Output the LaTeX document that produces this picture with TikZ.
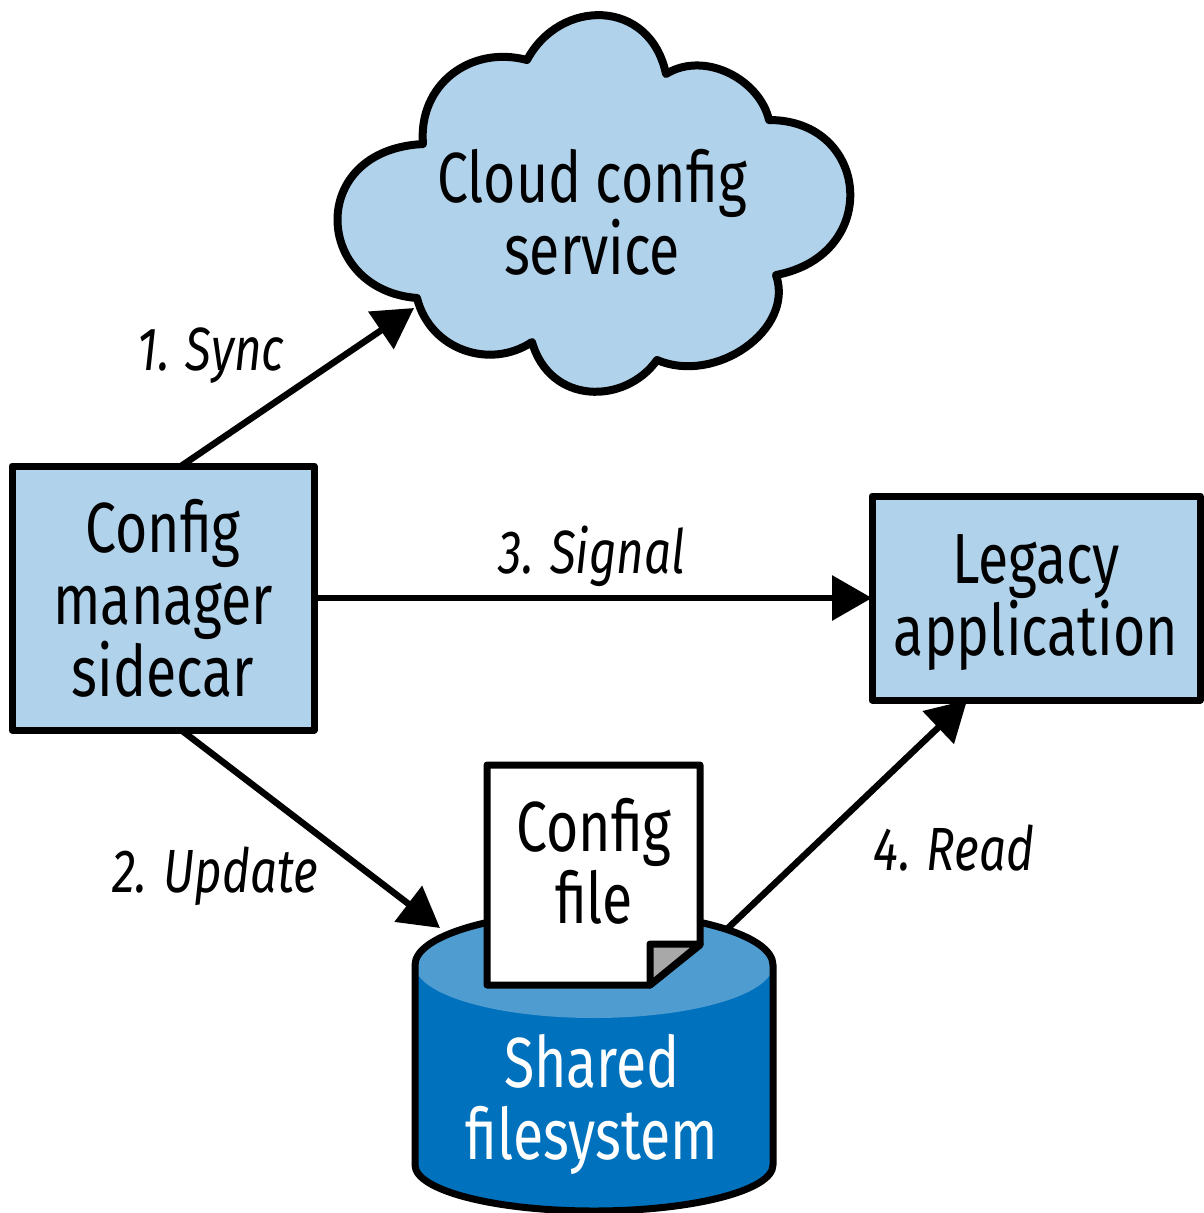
\documentclass[tikz,border=0pt]{standalone}
\usepackage{fontspec}
\setmainfont{Fira Sans}[FakeStretch=0.78]
\usetikzlibrary{arrows.meta,calc}
\definecolor{lightblue}{HTML}{B0D2EA}
\definecolor{deepblue}{HTML}{0071BC}
\definecolor{midblue}{HTML}{4F9CD0}
\definecolor{foldgray}{HTML}{A8A8A8}
\tikzset{
  outline/.style={draw=black,line width=7pt,line join=round},
  bigtext/.style={font=\fontsize{71}{72}\selectfont,align=center,inner sep=0pt},
  steplabel/.style={font=\fontsize{61}{62}\selectfont\itshape,inner sep=0pt},
  flowbox/.style={outline,fill=lightblue,rectangle,minimum width=#1,inner sep=0pt,outer sep=0pt},
  flow/.style={line width=6.5pt,-{Triangle[length=40pt,width=44pt]}}
}
\begin{document}
\begin{tikzpicture}[x=1pt,y=-1pt]
\useasboundingbox (0,0) rectangle (1203,1213);
% cloud
\path[outline,line width=8pt,fill=lightblue] (417,298)
  .. controls (314,290) and (306,150) .. (423,144)
  .. controls (418,85) and (470,45) .. (527,60)
  .. controls (560,-2) and (650,-2) .. (666,74)
  .. controls (705,50) and (760,80) .. (769,120)
  .. controls (870,120) and (882,255) .. (776,275)
  .. controls (795,330) and (715,385) .. (657,360)
  .. controls (625,405) and (550,405) .. (532,342)
  .. controls (490,370) and (430,350) .. (417,298) -- cycle;
\coordinate (cloudnotch) at (414,308);
\node[bigtext] (cloud) at (592,212) {Cloud config\\service};
% boxes
\node[flowbox=302pt,minimum height=264pt,bigtext] (cfg) at (163,598) {Config\\manager\\sidecar};
\node[flowbox=328pt,minimum height=204pt] (legacy) at (1036,598) {};
\node[bigtext] (legacytext) at (1036,603) {Legacy\\application};
% cylinder
\path[fill=deepblue] (415,965) -- (415,1165) arc[start angle=180,end angle=360,x radius=179,y radius=-46] -- (773,965) -- cycle;
\path[fill=midblue] (594,965) ellipse[x radius=179,y radius=53];
\path[outline] (773,965) arc[start angle=0,end angle=180,x radius=179,y radius=-53] -- (415,1165) arc[start angle=180,end angle=360,x radius=179,y radius=-46] -- cycle;
\coordinate (cylleft) at (440,928);
\coordinate (cylright) at (727,929);
\node[bigtext,text=white] (shared) at (592,1104) {Shared\\filesystem};
% document
\path[outline,fill=white] (487,765) -- (700,765) -- (700,945) -- (650,985) -- (487,985) -- cycle;
\path[outline,fill=foldgray] (650,985) -- (650,944) -- (700,944) -- cycle;
\node[bigtext] (file) at (594,861) {Config\\file};
% connectors
\draw[flow] ($(cfg.north west)!0.56!(cfg.north east)$) -- (cloudnotch);
\draw[flow] (cfg.east) -- (legacy.west);
\draw[flow] ($(cfg.south west)!0.56!(cfg.south east)$) -- (cylleft);
\draw[flow] (cylright) -- ($(legacy.south west)!0.29!(legacy.south east)$);
% labels
\node[steplabel] (l1) at (211,356) {1. Sync};
\node[steplabel] (l3) at (592,556) {3. Signal};
\node[steplabel] (l2) at (215,876) {2. Update};
\node[steplabel] (l4) at (954,848) {4. Read};
\end{tikzpicture}
\end{document}
